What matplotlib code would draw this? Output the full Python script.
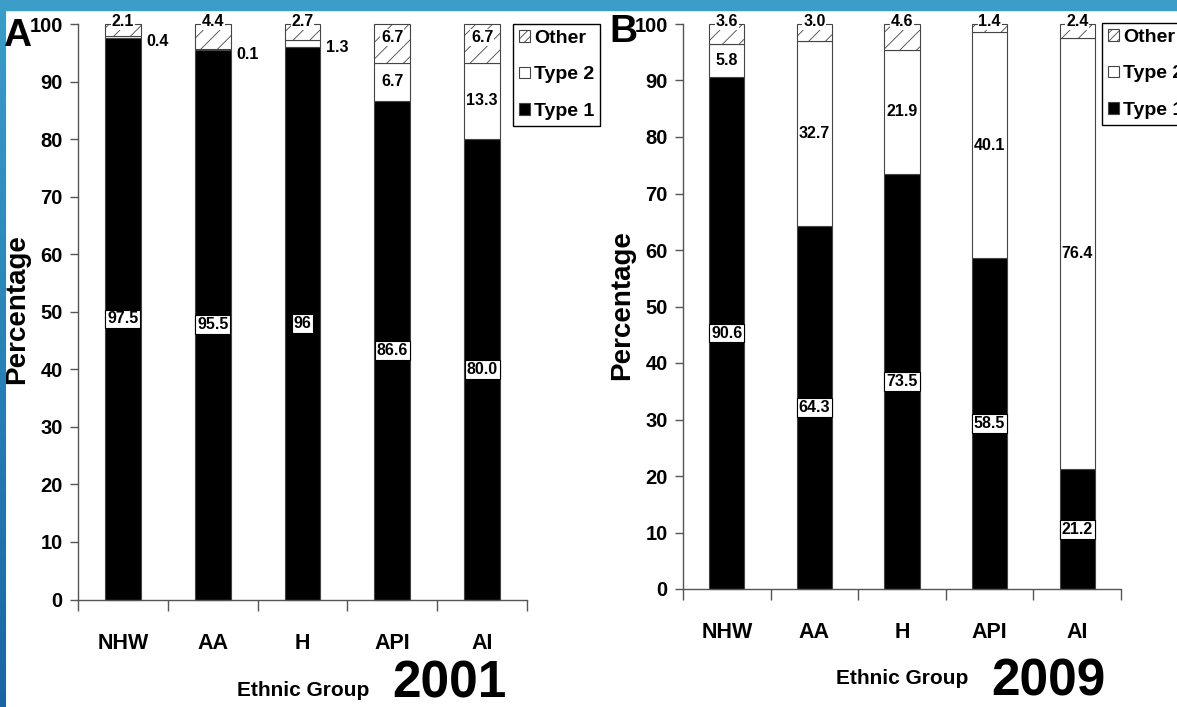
import matplotlib
matplotlib.use("Agg")
import numpy as np
import matplotlib.pyplot as plt
from matplotlib.patches import Patch, Rectangle

# data
groups = ["NHW", "AA", "H", "API", "AI"]

type1_2001 = [97.5, 95.5, 96.0, 86.6, 80.0]
type2_2001 = [0.4, 0.1, 1.3, 6.7, 13.3]
other_2001 = [2.1, 4.4, 2.7, 6.7, 6.7]
lab1_2001 = ["97.5", "95.5", "96", "86.6", "80.0"]
lab2_2001 = ["0.4", "0.1", "1.3", "6.7", "13.3"]
labo_2001 = ["2.1", "4.4", "2.7", "6.7", "6.7"]

type1_2009 = [90.6, 64.3, 73.5, 58.5, 21.2]
type2_2009 = [5.8, 32.7, 21.9, 40.1, 76.4]
other_2009 = [3.6, 3.0, 4.6, 1.4, 2.4]
lab1_2009 = ["90.6", "64.3", "73.5", "58.5", "21.2"]
lab2_2009 = ["5.8", "32.7", "21.9", "40.1", "76.4"]
labo_2009 = ["3.6", "3.0", "4.6", "1.4", "2.4"]

FONT = ["Liberation Sans", "DejaVu Sans"]
plt.rcParams["font.family"] = FONT
plt.rcParams["font.weight"] = "bold"
plt.rcParams["hatch.linewidth"] = 0.6

W, H = 1177, 707
fig = plt.figure(figsize=(W / 100, H / 100), dpi=100)
fig.patch.set_facecolor("white")


def fx(px):
    return px / W


def fy(py):
    return 1 - py / H


def panel(rect, t1, t2, ot, l1, l2, lo, leg_xy):
    ax = fig.add_axes(rect)
    t1 = np.array(t1)
    t2 = np.array(t2)
    ot = np.array(ot)
    x = np.arange(len(groups))
    ec = "#444444"
    ax.bar(x, t1, 0.4, color="black", edgecolor=ec, lw=0.8, clip_on=False)
    ax.bar(x, t2, 0.4, bottom=t1, color="white", edgecolor=ec, lw=0.8, clip_on=False)
    ax.bar(x, ot, 0.4, bottom=t1 + t2, color="white", edgecolor=ec, lw=0.8,
           hatch="//", clip_on=False)

    for i in range(len(x)):
        ax.text(x[i], t1[i] / 2, l1[i], ha="center", va="center", fontsize=11.5,
                bbox=dict(boxstyle="square,pad=0.12", fc="white", ec="black", lw=0.8))
        if t2[i] < 3:
            ax.text(x[i] + 0.26, t1[i] + t2[i] / 2 - 0.8, l2[i], ha="left",
                    va="center", fontsize=11.5)
        else:
            ax.text(x[i], t1[i] + t2[i] / 2, l2[i], ha="center", va="center",
                    fontsize=11.5)
        top = t1[i] + t2[i] + ot[i]
        yo = 100.4 if ot[i] < 6 else top - ot[i] / 2 + 1
        ax.text(x[i], yo, lo[i], ha="center", va="center", fontsize=11.5,
                bbox=dict(boxstyle="square,pad=0.05", fc="white", ec="none"))

    ax.set_xlim(-0.5, len(groups) - 0.5)
    ax.set_ylim(0, 100)
    ax.set_xticks(np.arange(-0.5, len(groups), 1))
    ax.set_xticklabels([])
    ax.set_xticks(x, minor=True)
    ax.set_xticklabels(groups, minor=True, fontsize=15.5)
    ax.tick_params(axis="x", which="major", length=8, width=1, color="#555555")
    ax.tick_params(axis="x", which="minor", length=0, pad=24)
    ax.set_yticks(range(0, 101, 10))
    ax.tick_params(axis="y", length=6, width=1, color="#555555", labelsize=14.5, pad=5)
    for s in ["top", "right"]:
        ax.spines[s].set_visible(False)
    for s in ["left", "bottom"]:
        ax.spines[s].set_color("#555555")
        ax.spines[s].set_linewidth(1)

    handles = [Patch(fc="white", ec=ec, hatch="////", lw=0.8, label="Other"),
               Patch(fc="white", ec=ec, lw=0.8, label="Type 2"),
               Patch(fc="black", ec=ec, lw=0.8, label="Type 1")]
    leg = fig.legend(handles=handles, loc="upper left",
                     bbox_to_anchor=(fx(leg_xy[0]), fy(leg_xy[1])),
                     bbox_transform=fig.transFigure, fancybox=False,
                     edgecolor="black", framealpha=1, borderpad=0.3,
                     labelspacing=1.0, handlelength=0.55, handleheight=0.55,
                     handletextpad=0.25, borderaxespad=0, fontsize=14)
    leg.get_frame().set_linewidth(1)
    return ax


# panel A (2001)
panel([fx(78), fy(599.5), fx(527) - fx(78), fy(24) - fy(599.5)],
      type1_2001, type2_2001, other_2001, lab1_2001, lab2_2001, labo_2001, (513, 24))
# panel B (2009)
panel([fx(683), fy(589), fx(1121) - fx(683), fy(24) - fy(589)],
      type1_2009, type2_2009, other_2009, lab1_2009, lab2_2009, labo_2009, (1102, 23))

# panel letters, axis titles, years
fig.text(fx(17), fy(36), "A", fontsize=28, ha="center", va="center")
fig.text(fx(623), fy(32), "B", fontsize=28, ha="center", va="center")
fig.text(fx(17), fy(309), "Percentage", rotation=90, ha="center", va="center",
         fontsize=20)
fig.text(fx(622), fy(305), "Percentage", rotation=90, ha="center", va="center",
         fontsize=20)
fig.text(fx(303), fy(690), "Ethnic Group", ha="center", va="center", fontsize=15)
fig.text(fx(902), fy(679), "Ethnic Group", ha="center", va="center", fontsize=15)
fig.text(fx(449), fy(697), "2001", ha="center", va="baseline", fontsize=37)
fig.text(fx(1048), fy(706), "2009", ha="center", va="bottom", fontsize=37)

# slide border: blue band on top and gradient band on the left
fig.patches.append(Rectangle((0, fy(10)), 1, 10 / H, transform=fig.transFigure,
                             color="#3b9dc8", zorder=10))
band = fig.add_axes([0, 0, fx(6), 1])
grad = np.linspace(0, 1, 256).reshape(-1, 1)
c_top = np.array([0x3b, 0x9d, 0xc8]) / 255
c_bot = np.array([0x1a, 0x66, 0xa2]) / 255
img = c_top[None, None, :] * (1 - grad[:, :, None]) + c_bot[None, None, :] * grad[:, :, None]
band.imshow(img, aspect="auto", extent=(0, 1, 0, 1))
band.set_axis_off()

fig.savefig("out.png", dpi=100)
